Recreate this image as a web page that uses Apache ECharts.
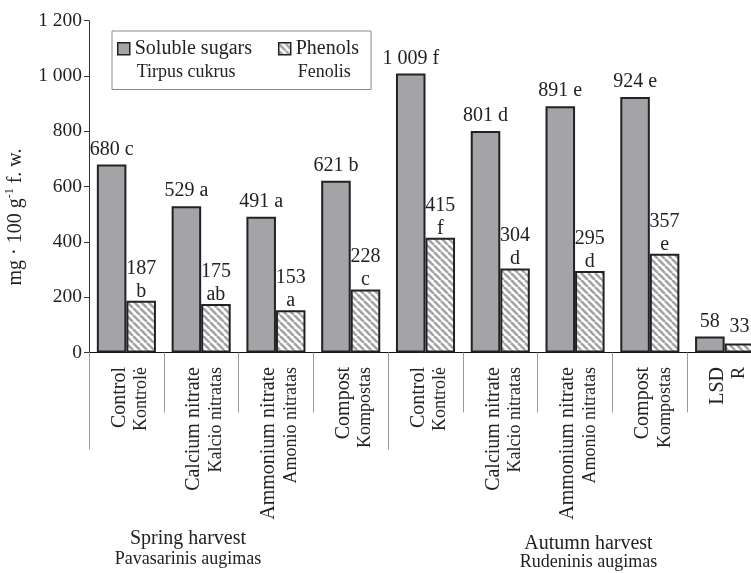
<!DOCTYPE html>
<html>
<head>
<meta charset="utf-8">
<script src="https://cdn.jsdelivr.net/npm/echarts@6/dist/echarts.min.js"></script>
<style>
  html, body { margin: 0; padding: 0; background: #fff; }
  #chart { width: 751px; height: 573px; }
</style>
</head>
<body>
<div id="chart"></div>
<script>
// Treatments (English / Lithuanian), one entry per category
const treatmentsEn = ['Control', 'Calcium nitrate', 'Ammonium nitrate', 'Compost',
                      'Control', 'Calcium nitrate', 'Ammonium nitrate', 'Compost', 'LSD'];
const treatmentsLt = ['Kontrolė', 'Kalcio nitratas', 'Amonio nitratas', 'Kompostas',
                      'Kontrolė', 'Kalcio nitratas', 'Amonio nitratas', 'Kompostas', 'R'];

// mg per 100 g fresh weight
const sugars = [680, 529, 491, 621, 1009, 801, 891, 924, 58];
const sugarLetters = ['c', 'a', 'a', 'b', 'f', 'd', 'e', 'e', ''];
const phenols = [187, 175, 153, 228, 415, 304, 295, 357, 33];
const phenolLetters = ['b', 'ab', 'a', 'c', 'f', 'd', 'd', 'e', ''];

const seriesEn = ['Soluble sugars', 'Phenols'];
const seriesLt = ['Tirpus cukrus', 'Fenolis'];
const harvestEn = ['Spring harvest', 'Autumn harvest'];
const harvestLt = ['Pavasarinis augimas', 'Rudeninis augimas'];

// value axis: 0 .. 1 200 in steps of 200
const yMin = 0, yMax = 1200, yStep = 200;
// category boundaries where a harvest group starts / ends
const groupBounds = [0, 4, 9];

const FONT = '"Liberation Serif", "Times New Roman", serif';
const INK = '#222';

function fmt(n) {
  return String(n).replace(/\B(?=(\d{3})+(?!\d))/g, ' ');
}

// diagonal hatch used to fill the phenol bars
function hatch() {
  const s = 7;
  const c = document.createElement('canvas');
  c.width = s; c.height = s;
  const g = c.getContext('2d');
  g.fillStyle = '#fff';
  g.fillRect(0, 0, s, s);
  g.strokeStyle = '#a3a3a3';
  g.lineWidth = 2.6;
  for (const o of [-s, 0, s]) {
    g.beginPath();
    g.moveTo(o, 0);
    g.lineTo(o + s, s);
    g.stroke();
  }
  return c;
}

const cats = treatmentsEn.map((t, i) => 'c' + i);
const chart = echarts.init(document.getElementById('chart'), null, { renderer: 'canvas' });

const option = {
  animation: false,
  backgroundColor: '#fff',
  textStyle: { fontFamily: FONT, color: INK },
  grid: { left: 89, right: -11, top: 20.7, bottom: 220.5, containLabel: false, outerBoundsMode: 'none' },
  legend: {
    left: 112, top: 31,
    padding: [5, 12, 4, 5],
    itemGap: 26,
    itemWidth: 12, itemHeight: 48,
    borderColor: '#888', borderWidth: 1,
    icon: 'path://M0,6H12V18H0Z M0,0 M0,48',
    itemStyle: { borderColor: INK, borderWidth: 1.5 },
    formatter: name => {
      const i = seriesEn.indexOf(name);
      return '{a|' + name + '}\n{b|' + seriesLt[i] + '}';
    },
    textStyle: {
      rich: {
        a: { fontFamily: FONT, fontSize: 20, lineHeight: 24, color: INK },
        b: { fontFamily: FONT, fontSize: 18, lineHeight: 24, color: INK, padding: [0, 0, 0, 2] }
      }
    }
  },
  xAxis: [
    {
      type: 'category',
      data: cats,
      position: 'bottom',
      axisLine: { show: true, lineStyle: { color: '#111', width: 1 } },
      axisTick: { show: true, length: 60, lineStyle: { color: '#999', width: 1 } },
      axisLabel: {
        interval: 0,
        rotate: 90,
        margin: 14.5,
        padding: [8, 0, 0, 0],
        formatter: (v, i) => '{a|' + treatmentsEn[i] + '}\n{b|' + treatmentsLt[i] + '}',
        rich: {
          a: { fontFamily: FONT, fontSize: 20, lineHeight: 22, color: INK },
          b: { fontFamily: FONT, fontSize: 18, lineHeight: 22, color: INK }
        }
      },
      splitLine: { show: false }
    },
    {
      type: 'category',
      data: cats,
      position: 'bottom',
      axisLine: { show: false },
      axisTick: {
        show: true, length: 97,
        interval: (i) => groupBounds.indexOf(i) >= 0,
        lineStyle: { color: '#999', width: 1 }
      },
      axisLabel: { show: false },
      splitLine: { show: false }
    }
  ],
  yAxis: {
    type: 'value',
    min: yMin, max: yMax, interval: yStep,
    axisLine: { show: true, lineStyle: { color: '#333', width: 1 } },
    axisTick: { show: true, length: 5, inside: false, lineStyle: { color: '#333' } },
    axisLabel: { margin: 7, fontFamily: FONT, fontSize: 19.5, color: INK, formatter: v => fmt(v) },
    splitLine: { show: false }
  },
  series: [
    {
      name: seriesEn[0],
      type: 'bar',
      xAxisIndex: 0,
      data: sugars,
      barGap: '0%',
      barCategoryGap: '21%',
      itemStyle: { color: '#a4a4a8', borderColor: INK, borderWidth: 2 },
      label: {
        show: true, position: 'top', distance: 5,
        fontFamily: FONT, fontSize: 20, color: INK,
        formatter: p => fmt(p.value) + (sugarLetters[p.dataIndex] ? ' ' + sugarLetters[p.dataIndex] : '')
      }
    },
    {
      name: seriesEn[1],
      type: 'bar',
      xAxisIndex: 0,
      data: phenols.map((v, i) => phenolLetters[i] ? v : { value: v, label: { distance: 5 } }),
      barGap: '0%',
      barCategoryGap: '21%',
      itemStyle: { color: { image: hatch(), repeat: 'repeat' }, borderColor: INK, borderWidth: 2 },
      label: {
        show: true, position: 'top', distance: -2,
        fontFamily: FONT, fontSize: 20, lineHeight: 23, color: INK, align: 'center',
        formatter: p => fmt(p.value) + (phenolLetters[p.dataIndex] ? '\n' + phenolLetters[p.dataIndex] : '')
      }
    }
  ],
  graphic: [
    {
      type: 'text', x: 16, y: 217, rotation: Math.PI / 2,
      style: {
        text: '{a|mg · 100 g}{s|-1}{a| f. w.}',
        align: 'center', verticalAlign: 'middle', fill: INK,
        rich: {
          a: { fontFamily: FONT, fontSize: 20, lineHeight: 24, fill: INK },
          s: { fontFamily: FONT, fontSize: 12, lineHeight: 24, fill: INK, verticalAlign: 'top' }
        }
      }
    },
    { type: 'text', x: 188, y: 538.5, style: { text: harvestEn[0], fontFamily: FONT, fontSize: 20, fill: INK, align: 'center', verticalAlign: 'middle' } },
    { type: 'text', x: 188, y: 559.5, style: { text: harvestLt[0], fontFamily: FONT, fontSize: 18, fill: INK, align: 'center', verticalAlign: 'middle' } },
    { type: 'text', x: 588.5, y: 543.5, style: { text: harvestEn[1], fontFamily: FONT, fontSize: 20, fill: INK, align: 'center', verticalAlign: 'middle' } },
    { type: 'text', x: 588.5, y: 562.5, style: { text: harvestLt[1], fontFamily: FONT, fontSize: 18, fill: INK, align: 'center', verticalAlign: 'middle' } }
  ]
};

chart.setOption(option);
</script>
</body>
</html>
